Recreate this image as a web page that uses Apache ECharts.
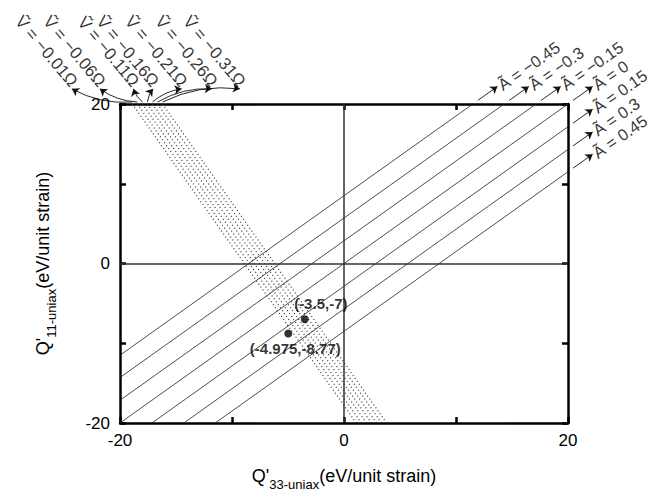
<!DOCTYPE html>
<html>
<head>
<meta charset="utf-8">
<script src="https://cdn.jsdelivr.net/npm/echarts@6/dist/echarts.min.js"></script>
<style>
html,body{margin:0;padding:0;background:#fff;}
#c{width:652px;height:504px;}
</style>
</head>
<body>
<div id="c"></div>
<script>
// ---- data ----
const aValues = [-0.45, -0.3, -0.15, 0, 0.15, 0.3, 0.45];
const aIntercepts = [8.5, 5.7, 2.85, 0, -2.85, -5.7, -8.5]; // Q'11 at Q'33 = 0
const aSlope = 1.0;
const vValues = [-0.01, -0.06, -0.11, -0.16, -0.21, -0.26, -0.31];
const vIntercepts = [-17.8, -16.9, -16.0, -15.1, -14.2, -13.3, -12.4]; // Q'11 at Q'33 = 0
const vSlope = -2.0;
const pointX = [-3.5, -4.975];
const pointY = [-7, -8.77];
const pointLabels = ['(-3.5,-7)', '(-4.975,-8.77)'];
const axisMin = -20, axisMax = 20;
const tickLabels = [-20, 0, 20];

// ---- layout constants for annotations (not data) ----
const vTipX = [-24.3, -21.8, -18.8, -17.05, -14.5, -11.8, -9.3];
const vTipY = 21.9;

const FONT = "'Liberation Sans', Arial, Helvetica, sans-serif";

function clipLine(slope, b) {
  const cands = [];
  for (const x of [axisMin, axisMax]) { const y = slope * x + b; if (y >= axisMin - 1e-9 && y <= axisMax + 1e-9) cands.push([x, y]); }
  for (const y of [axisMin, axisMax]) { const x = (y - b) / slope; if (x >= axisMin - 1e-9 && x <= axisMax + 1e-9) cands.push([x, y]); }
  cands.sort((p, q) => p[0] - q[0]);
  return [cands[0], cands[cands.length - 1]];
}

const series = [];

// solid A lines
aIntercepts.forEach((b) => {
  series.push({
    type: 'line', data: clipLine(aSlope, b), showSymbol: false, symbol: 'none',
    lineStyle: { color: '#222', width: 0.8 }, silent: true, z: 3
  });
});
// dotted V lines
vIntercepts.forEach((c) => {
  series.push({
    type: 'line', data: clipLine(vSlope, c), showSymbol: false, symbol: 'none',
    lineStyle: { color: '#333', width: 1.2, type: [1, 2.6] }, silent: true, z: 2
  });
});

// zero lines
series.push({
  type: 'line', data: [], markLine: {
    silent: true, symbol: 'none', label: { show: false },
    lineStyle: { color: '#333', width: 1.5, type: 'solid' },
    data: [{ xAxis: 0 }, { yAxis: 0 }]
  }
});

// arrows for A lines
const aArrows = aIntercepts.map((b) => {
  const end = clipLine(aSlope, b)[1];
  return { coords: [[end[0] + 0.45, end[1] + 0.45 * aSlope], [end[0] + 2.2, end[1] + 2.2 * aSlope]] };
});
series.push({
  type: 'lines', coordinateSystem: 'cartesian2d', clip: false, z: 5,
  symbol: ['none', 'arrow'], symbolSize: [0, 7],
  lineStyle: { color: '#111', width: 0.9, opacity: 1, curveness: 0 },
  data: aArrows
});
// A labels
series.push({
  type: 'scatter', clip: false, symbolSize: 0, z: 6, silent: true,
  data: aIntercepts.map((b, i) => {
    const end = clipLine(aSlope, b)[1];
    return { value: [end[0] + 2.2, end[1] + 2.2 * aSlope], name: 'Ã = ' + (aValues[i] < 0 ? '\u2212' + Math.abs(aValues[i]) : String(aValues[i])) };
  }),
  label: { show: true, position: 'right', distance: 2, rotate: 35, formatter: p => p.name, color: '#000', fontSize: 16.5, fontFamily: FONT }
});

// arrows for V lines
const vArrows = vIntercepts.map((c, i) => {
  const top = clipLine(vSlope, c)[0];
  return { coords: [[top[0], 20.25], [vTipX[i], vTipY]] };
});
series.push({
  type: 'lines', coordinateSystem: 'cartesian2d', clip: false, z: 5,
  symbol: ['none', 'arrow'], symbolSize: [0, 7],
  lineStyle: { color: '#111', width: 0.9, opacity: 1, curveness: 0.15 },
  data: vArrows
});
// V labels
series.push({
  type: 'scatter', clip: false, symbolSize: 0, z: 6, silent: true,
  data: vValues.map((v, i) => ({ value: [vTipX[i] + 0.2, vTipY + 0.55], name: 'Ṽ = \u2212' + Math.abs(v).toFixed(2) + 'Ω' })),
  label: { show: true, position: 'left', distance: 0, rotate: -50, formatter: p => p.name, color: '#000', fontSize: 17, fontFamily: FONT }
});

// points
series.push({
  type: 'scatter', symbol: 'circle', symbolSize: 8, z: 7,
  itemStyle: { color: '#000' },
  data: pointX.map((x, i) => ({
    value: [x, pointY[i]], name: pointLabels[i],
    label: { offset: i === 0 ? [16, -16] : [7, 15] }
  })),
  label: { show: true, position: 'inside', formatter: p => p.name, color: '#000', fontSize: 15, fontWeight: 'bold', fontFamily: FONT }
});

const axisCommon = {
  min: axisMin, max: axisMax, interval: 10,
  axisLine: { onZero: false, lineStyle: { color: '#000', width: 2.5 } },
  axisTick: { inside: true, length: 6, lineStyle: { color: '#000', width: 2.5 } },
  splitLine: { show: false }
};

const option = {
  animation: false,
  backgroundColor: '#fff',
  grid: { left: 120, right: 84, top: 104, bottom: 81 },
  xAxis: [
    Object.assign({}, axisCommon, {
      type: 'value', position: 'bottom',
      axisLabel: { margin: 9, color: '#000', fontSize: 17, fontFamily: FONT, formatter: v => tickLabels.includes(v) ? String(v) : '' },
      name: "{m|Q'}{s|33-uniax}{m|(eV/unit strain)}", nameLocation: 'middle', nameGap: 44,
      nameTextStyle: { rich: {
        m: { fontSize: 18, fontFamily: FONT, color: '#000', verticalAlign: 'bottom', padding: [0, 0, 6, 0] },
        s: { fontSize: 13, fontFamily: FONT, color: '#000', verticalAlign: 'bottom' }
      } }
    }),
    Object.assign({}, axisCommon, { type: 'value', position: 'top', axisLabel: { show: false } })
  ],
  yAxis: [
    Object.assign({}, axisCommon, {
      type: 'value', position: 'left',
      axisLabel: { margin: 10, color: '#000', fontSize: 17, fontFamily: FONT, formatter: v => tickLabels.includes(v) ? String(v) : '' },
      name: "{m|Q'}{s|11-uniax}{m|(eV/unit strain)}", nameLocation: 'middle', nameGap: 62, nameRotate: 90,
      nameTextStyle: { rich: {
        m: { fontSize: 18, fontFamily: FONT, color: '#000', verticalAlign: 'bottom', padding: [0, 0, 6, 0] },
        s: { fontSize: 13, fontFamily: FONT, color: '#000', verticalAlign: 'bottom' }
      } }
    }),
    Object.assign({}, axisCommon, { type: 'value', position: 'right', axisLabel: { show: false } })
  ],
  series: series
};

const chart = echarts.init(document.getElementById('c'), null, { renderer: 'svg' });
chart.setOption(option);
</script>
</body>
</html>
